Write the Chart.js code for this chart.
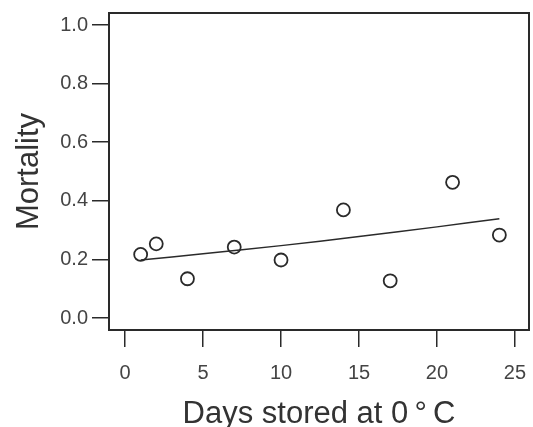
<!DOCTYPE html>
<html>
<head>
<meta charset="utf-8">
<script src="https://cdn.jsdelivr.net/npm/chart.js@4/dist/chart.umd.min.js"></script>
<style>
  html, body { margin: 0; padding: 0; background: #fff; overflow: hidden; }
  canvas { display: block; }
</style>
</head>
<body>
<canvas id="chart" width="533" height="427"></canvas>
<script>
// observed mortality by days in storage
const days = [1, 2, 4, 7, 10, 14, 17, 21, 24];
const mortality = [0.217, 0.253, 0.134, 0.242, 0.198, 0.369, 0.127, 0.463, 0.283];

// fitted curve
const fitDays = [1, 5, 10, 15, 20, 24];
const fitMortality = [0.198, 0.219, 0.247, 0.278, 0.311, 0.339];

const xTicks = [0, 5, 10, 15, 20, 25];
const yTicks = [0.0, 0.2, 0.4, 0.6, 0.8, 1.0];

const ink = '#2a2a2a';
const textCol = '#444';
const font = 'Liberation Sans, Arial, sans-serif';

const frame = {
  id: 'frame',
  afterDraw(chart) {
    const a = chart.chartArea;
    const ctx = chart.ctx;
    ctx.save();
    ctx.strokeStyle = ink;
    ctx.lineWidth = 2;
    ctx.strokeRect(a.left, a.top, a.right - a.left, a.bottom - a.top);
    ctx.restore();
  }
};

function noPad(s) {
  s.paddingLeft = 0;
  s.paddingRight = 0;
  s.paddingTop = 0;
  s.paddingBottom = 0;
}

new Chart(document.getElementById('chart'), {
  type: 'scatter',
  data: {
    datasets: [
      {
        label: 'fit',
        type: 'line',
        data: fitDays.map((d, i) => ({ x: d, y: fitMortality[i] })),
        borderColor: ink,
        borderWidth: 1.5,
        pointRadius: 0,
        tension: 0.4,
        fill: false
      },
      {
        label: 'observed',
        data: days.map((d, i) => ({ x: d, y: mortality[i] })),
        pointRadius: 6.5,
        pointBorderWidth: 1.8,
        pointBorderColor: ink,
        pointBackgroundColor: 'rgba(255,255,255,0)'
      }
    ]
  },
  options: {
    responsive: false,
    animation: false,
    devicePixelRatio: 1,
    layout: { autoPadding: false, padding: { top: 13, right: 4, left: 0, bottom: 0 } },
    plugins: { legend: { display: false }, tooltip: { enabled: false } },
    scales: {
      x: {
        type: 'linear',
        min: -1.03,
        max: 25.9,
        afterBuildTicks: s => { s.ticks = xTicks.map(v => ({ value: v })); },
        afterFit: s => { s.height = 97; noPad(s); },
        grid: { drawOnChartArea: false, drawTicks: true, tickLength: 17, color: ink, lineWidth: 1.5 },
        border: { display: false },
        ticks: { padding: 14, color: textCol, font: { family: font, size: 20 }, maxRotation: 0 },
        title: { display: true, text: 'Days stored at 0\u2009°\u2009C', color: '#333', font: { family: font, size: 31 }, padding: { top: 0, bottom: -6 } }
      },
      y: {
        min: -0.041,
        max: 1.041,
        afterBuildTicks: s => { s.ticks = yTicks.map(v => ({ value: v })); },
        afterFit: s => { s.width = 109; noPad(s); },
        grid: { drawOnChartArea: false, drawTicks: true, tickLength: 17, color: ink, lineWidth: 1.5 },
        border: { display: false },
        ticks: { padding: 4, color: textCol, font: { family: font, size: 20 }, callback: v => v.toFixed(1) },
        title: { display: true, text: 'Mortality', color: '#333', font: { family: font, size: 31 }, padding: { top: 11, bottom: 0 } }
      }
    }
  },
  plugins: [frame]
});
</script>
</body>
</html>
